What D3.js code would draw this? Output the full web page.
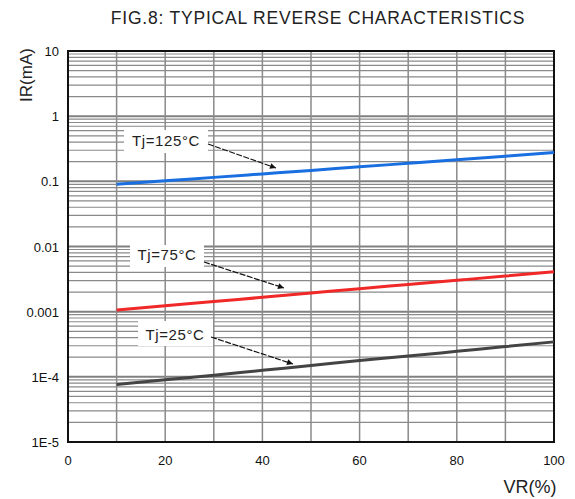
<!DOCTYPE html>
<html>
<head>
<meta charset="utf-8">
<title>FIG.8 Typical Reverse Characteristics</title>
<script src="https://d3js.org/d3.v7.min.js"></script>
<style>
  body { margin: 0; background: #fff; }
  text { font-family: "Liberation Sans", Arial, sans-serif; }
</style>
</head>
<body>
<script>
// data
const vr = [10, 20, 30, 40, 50, 60, 70, 80, 90, 100];
const ir125 = [0.090, 0.102, 0.115, 0.130, 0.147, 0.167, 0.189, 0.214, 0.243, 0.277];
const ir75 = [0.00106, 0.00123, 0.00143, 0.00166, 0.00193, 0.00225, 0.00261, 0.00303, 0.00352, 0.00410];
const ir25 = [0.000076, 0.000090, 0.000106, 0.000126, 0.000149, 0.000178, 0.000208, 0.000246, 0.000291, 0.000344];
const seriesNames = ["Tj=125\u00B0C", "Tj=75\u00B0C", "Tj=25\u00B0C"];
const seriesColors = ["#1a6fe0", "#f02828", "#444444"];
const xTicks = [0, 20, 40, 60, 80, 100];
const yTicks = [1e-5, 1e-4, 1e-3, 1e-2, 0.1, 1, 10];
const yTickLabels = ["1E-5", "1E-4", "0.001", "0.01", "0.1", "1", "10"];

const width = 575, height = 499;
const margin = {left: 68, top: 51, right: 21, bottom: 57};

const svg = d3.select("body").append("svg")
    .attr("width", width)
    .attr("height", height);

const x = d3.scaleLinear().domain([0, 100]).range([margin.left, width - margin.right]);
const y = d3.scaleLog().domain([1e-5, 10]).range([height - margin.bottom, margin.top]);

// minor horizontal grid (2..9 in each decade)
const minor = [];
for (let e = -5; e < 1; e++) {
    for (let m = 2; m <= 9; m++) minor.push(m * Math.pow(10, e));
}
svg.append("g").selectAll("line.minor")
    .data(minor)
    .join("line")
    .attr("x1", x(0)).attr("x2", x(100))
    .attr("y1", d => y(d)).attr("y2", d => y(d))
    .attr("stroke", "#8a8a8a")
    .attr("stroke-width", 1.2);

// decade lines
svg.append("g").selectAll("line.major")
    .data(yTicks)
    .join("line")
    .attr("x1", x(0)).attr("x2", x(100))
    .attr("y1", d => y(d)).attr("y2", d => y(d))
    .attr("stroke", "#808080")
    .attr("stroke-width", 2);

// vertical grid every 10
svg.append("g").selectAll("line.v")
    .data(d3.range(10, 100, 10))
    .join("line")
    .attr("x1", d => x(d)).attr("x2", d => x(d))
    .attr("y1", y(1e-5)).attr("y2", y(10))
    .attr("stroke", "#8a8a8a")
    .attr("stroke-width", 1.5);

// frame
svg.append("rect")
    .attr("x", x(0)).attr("y", y(10))
    .attr("width", x(100) - x(0))
    .attr("height", y(1e-5) - y(10))
    .attr("fill", "none")
    .attr("stroke", "#111")
    .attr("stroke-width", 2);

// curves
const line = d3.line()
    .x((d, i) => x(vr[i]))
    .y(d => y(d))
    .curve(d3.curveMonotoneX);

[ir125, ir75, ir25].forEach((s, k) => {
    svg.append("path")
        .datum(s)
        .attr("d", line)
        .attr("fill", "none")
        .attr("stroke", seriesColors[k])
        .attr("stroke-width", 3);
});

// annotations: label box + arrow pointing at the curve
const notes = [
    {box: [124, 130, 84, 23], tx: 166, ty: 146, from: [208, 144], to: [276, 168]},
    {box: [130, 245, 74, 22], tx: 167, ty: 260, from: [204, 262], to: [284, 288]},
    {box: [138, 321, 75, 25], tx: 175, ty: 340, from: [211, 337], to: [293, 364]}
];

svg.append("defs").append("marker")
    .attr("id", "arrow")
    .attr("viewBox", "0 0 10 10")
    .attr("refX", 10).attr("refY", 5)
    .attr("markerWidth", 7).attr("markerHeight", 5)
    .attr("orient", "auto")
    .append("path")
    .attr("d", "M0,0L10,5L0,10z")
    .attr("fill", "#111");

notes.forEach((n, k) => {
    svg.append("rect")
        .attr("x", n.box[0]).attr("y", n.box[1])
        .attr("width", n.box[2]).attr("height", n.box[3])
        .attr("fill", "#fff");
    svg.append("text")
        .attr("x", n.tx).attr("y", n.ty)
        .attr("text-anchor", "middle")
        .attr("font-size", 15)
        .attr("letter-spacing", 0.6)
        .attr("fill", "#222")
        .text(seriesNames[k]);
    svg.append("line")
        .attr("x1", n.from[0]).attr("y1", n.from[1])
        .attr("x2", n.to[0]).attr("y2", n.to[1])
        .attr("stroke", "#111")
        .attr("stroke-width", 1.2)
        .attr("stroke-dasharray", "6,1.5")
        .attr("marker-end", "url(#arrow)");
});

// axis tick labels
svg.append("g").selectAll("text")
    .data(yTicks)
    .join("text")
    .attr("x", margin.left - 9)
    .attr("y", d => y(d) + 5)
    .attr("text-anchor", "end")
    .attr("font-size", 13)
    .attr("fill", "#111")
    .text((d, i) => yTickLabels[i]);

svg.append("g").selectAll("text")
    .data(xTicks)
    .join("text")
    .attr("x", d => x(d))
    .attr("y", y(1e-5) + 23)
    .attr("text-anchor", "middle")
    .attr("font-size", 13)
    .attr("fill", "#111")
    .text(d => d);

// titles
svg.append("text")
    .attr("x", 318).attr("y", 24)
    .attr("text-anchor", "middle")
    .attr("font-size", 17.5)
    .attr("letter-spacing", 0.8)
    .attr("fill", "#222")
    .text("FIG.8: TYPICAL REVERSE CHARACTERISTICS");

svg.append("text")
    .attr("transform", "translate(32,75) rotate(-90)")
    .attr("text-anchor", "middle")
    .attr("font-size", 17)
    .attr("fill", "#222")
    .text("IR(mA)");

svg.append("text")
    .attr("x", 530).attr("y", 493)
    .attr("text-anchor", "middle")
    .attr("font-size", 18)
    .attr("fill", "#222")
    .text("VR(%)");
</script>
</body>
</html>
